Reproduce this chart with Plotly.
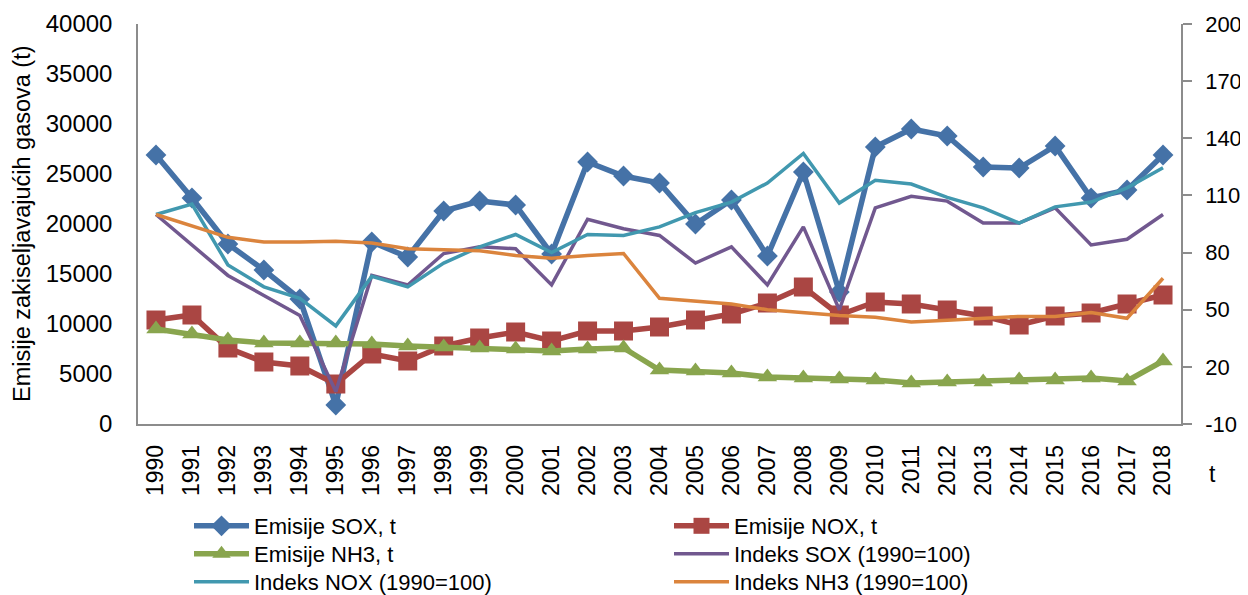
import plotly.graph_objects as go

years = ["1990", "1991", "1992", "1993", "1994", "1995", "1996", "1997", "1998", "1999",
         "2000", "2001", "2002", "2003", "2004", "2005", "2006", "2007", "2008", "2009",
         "2010", "2011", "2012", "2013", "2014", "2015", "2016", "2017", "2018"]

emisije_sox = [26900, 22600, 18000, 15400, 12500, 1900, 18200, 16700, 21300, 22300,
               21900, 17000, 26200, 24800, 24100, 20000, 22400, 16800, 25200, 13200,
               27700, 29500, 28800, 25700, 25600, 27800, 22600, 23400, 26900]
emisije_nox = [10400, 10900, 7600, 6200, 5800, 4000, 7000, 6300, 7800, 8600,
               9200, 8300, 9300, 9300, 9700, 10400, 11000, 12100, 13700, 10900,
               12200, 12000, 11400, 10800, 9900, 10800, 11100, 12000, 12900]
emisije_nh3 = [9500, 9000, 8400, 8100, 8100, 8100, 8000, 7800, 7700, 7600,
               7500, 7300, 7500, 7600, 5400, 5300, 5100, 4700, 4600, 4500,
               4400, 4100, 4200, 4200, 4400, 4400, 4600, 4300, 6300]
indeks_sox = [100, 84, 68, 57.5, 47, 7, 68, 63, 79.5, 83,
              82, 63, 97.5, 92.5, 89, 74.5, 83, 63, 93.5, 50,
              103.5, 109.5, 107, 95.5, 95.5, 103.5, 84, 87, 100]
indeks_nox = [100, 105.5, 73.5, 62, 56, 41.5, 67.5, 62, 74.5, 83,
              89.5, 80, 89.5, 89, 93.5, 101, 106.5, 116.5, 132, 106,
              118, 116, 109, 103.5, 95.5, 104, 106.5, 114, 124.5]
indeks_nh3 = [100, 94, 88, 85.5, 85.5, 86, 85, 82, 81.5, 81,
              78.5, 77, 78.5, 79.5, 56, 54.5, 53, 50, 48.5, 47,
              46, 43.5, 44.5, 45.5, 46.5, 46.5, 48.5, 45.5, 66.5]

left_ticks = [0, 5000, 10000, 15000, 20000, 25000, 30000, 35000, 40000]
right_ticks = [-10, 20, 50, 80, 110, 140, 170, 200]

FONT = "Liberation Sans"
C_SOX = "#4572A7"
C_NOX = "#AA4643"
C_NH3 = "#89A54E"
C_ISOX = "#71588F"
C_INOX = "#4198AF"
C_INH3 = "#DB843D"
AXIS_C = "#8C8C8C"

# page body has an 8px margin: figure occupies page x 8..1248, y 8..595
W, H = 1240, 587
ML, MR, MT, MB = 130, 67, 16, 171
PW = W - ML - MR
PH = H - MT - MB


def px_x(page_x):
    return (page_x - 8 - ML) / PW


def px_y(page_y):
    return (H - MB - (page_y - 8)) / PH


fig = go.Figure()
fig.add_trace(go.Scatter(x=years, y=emisije_sox, name="Emisije SOX, t", mode="lines+markers",
                         line=dict(color=C_SOX, width=5.5), legend="legend",
                         marker=dict(symbol="diamond", size=16, color=C_SOX)))
fig.add_trace(go.Scatter(x=years, y=emisije_nox, name="Emisije NOX, t", mode="lines+markers",
                         line=dict(color=C_NOX, width=5.5), legend="legend2",
                         marker=dict(symbol="square", size=19, color=C_NOX)))
fig.add_trace(go.Scatter(x=years, y=emisije_nh3, name="Emisije NH3, t", mode="lines+markers",
                         line=dict(color=C_NH3, width=5.5), legend="legend3",
                         marker=dict(symbol="triangle-up", size=17, color=C_NH3)))
fig.add_trace(go.Scatter(x=years, y=indeks_sox, name="Indeks SOX (1990=100)", mode="lines",
                         line=dict(color=C_ISOX, width=3.5), yaxis="y2", legend="legend4"))
fig.add_trace(go.Scatter(x=years, y=indeks_nox, name="Indeks NOX (1990=100)", mode="lines",
                         line=dict(color=C_INOX, width=3.5), yaxis="y2", legend="legend5"))
fig.add_trace(go.Scatter(x=years, y=indeks_nh3, name="Indeks NH3 (1990=100)", mode="lines",
                         line=dict(color=C_INH3, width=3.5), yaxis="y2", legend="legend6"))

leg_common = dict(orientation="v", xanchor="left", yanchor="middle", itemwidth=55,
                  font=dict(family=FONT, size=22), bgcolor="rgba(0,0,0,0)",
                  tracegroupgap=0, itemsizing="trace")
COL1, COL2 = 189, 669
ROWS = [526, 554, 582]

fig.update_layout(
    width=W, height=H,
    margin=dict(l=ML, r=MR, t=MT, b=MB, autoexpand=False),
    paper_bgcolor="white", plot_bgcolor="white",
    font=dict(family=FONT, size=22, color="black"),
    showlegend=True,
    xaxis=dict(type="category", range=[-0.5, 28.5], showgrid=False, zeroline=False,
               showline=True, linecolor=AXIS_C, linewidth=1.5, ticks="",
               tickangle=-90, tickfont=dict(size=23), ticklabelstandoff=10),
    yaxis=dict(range=[0, 40000], tickvals=left_ticks, ticktext=[str(v) for v in left_ticks],
               showgrid=False, zeroline=False, showline=True, linecolor=AXIS_C, linewidth=1.5,
               ticks="", tickfont=dict(size=24), ticklabelstandoff=19),
    yaxis2=dict(range=[-10, 200], tickvals=right_ticks, ticktext=[str(v) for v in right_ticks],
                overlaying="y", side="right", showgrid=False, zeroline=False, showline=True,
                linecolor=AXIS_C, linewidth=1.5, ticks="outside", ticklen=9, tickcolor=AXIS_C,
                tickwidth=1.5, tickfont=dict(size=22), ticklabelstandoff=9),
    legend=dict(x=px_x(COL1), y=px_y(ROWS[0]), **leg_common),
    legend2=dict(x=px_x(COL2), y=px_y(ROWS[0]), **leg_common),
    legend3=dict(x=px_x(COL1), y=px_y(ROWS[1]), **leg_common),
    legend4=dict(x=px_x(COL2), y=px_y(ROWS[1]), **leg_common),
    legend5=dict(x=px_x(COL1), y=px_y(ROWS[2]), **leg_common),
    legend6=dict(x=px_x(COL2), y=px_y(ROWS[2]), **leg_common),
    annotations=[
        dict(text="Emisije zakiseljavajućih gasova (t)", xref="paper", yref="paper",
             x=px_x(22), y=0.5, textangle=-90, showarrow=False,
             font=dict(family=FONT, size=23.5), xanchor="center", yanchor="middle"),
        dict(text="t", xref="paper", yref="paper", x=px_x(1212), y=px_y(474),
             showarrow=False, font=dict(family=FONT, size=23), xanchor="center", yanchor="middle"),
    ],
)

fig.write_html("out.html")
